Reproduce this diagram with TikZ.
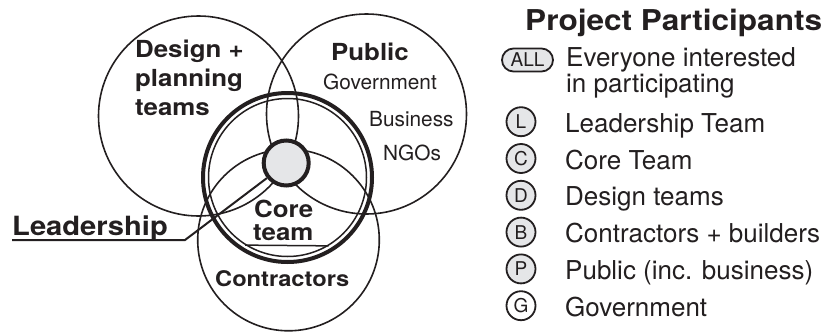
\documentclass[tikz,border=0pt]{standalone}
\usepackage{fontspec}
\setmainfont{TeX Gyre Heros}
\newfontfamily\widefont[FakeStretch=1.1]{TeX Gyre Heros}
\definecolor{ink}{RGB}{35,31,32}
\definecolor{fillgray}{RGB}{229,230,232}
\begin{document}
\begin{tikzpicture}[x=1pt,y=-1pt,
  venn/.style={circle, draw=ink, line width=1.6pt, inner sep=0pt, minimum size=#1},
  lab/.style={inner sep=0pt, anchor=base west, text=ink},
  boldlab/.style={lab, font=\widefont\bfseries\fontsize{23.5}{28}\selectfont},
  smalllab/.style={lab, font=\fontsize{20.8}{24}\selectfont},
  leglab/.style={lab, font=\fontsize{26}{30}\selectfont},
  legc/.style={circle, draw=ink, line width=1.8pt, fill=fillgray, minimum size=29pt, inner sep=0pt, text=ink, font=\fontsize{19}{19}\selectfont}
]
\useasboundingbox (0,0) rectangle (828,335);
% Venn circles
\node[venn=200] (design) at (198.5,116) {};
\node[venn=200] (public) at (366.5,114) {};
\node[venn=181.6] (contr) at (288.5,240) {};
\node[venn=169, line width=4pt] (lead) at (287.5,177.5) {};
\node[venn=158, line width=1.5pt] (inner) at (287.5,177.5) {};
% core team chord
\draw[draw=ink, line width=1.5pt] (inner.238.7) -- (inner.301.3);
% leadership leader line
\coordinate (ulstart) at (12,240);
\coordinate (elbow) at (185,240);
\node[venn=45, line width=4pt, fill=fillgray] (small) at (286.2,163) {};
\draw[draw=ink, line width=2pt] (ulstart) -- (elbow) -- (small.218);
% diagram labels
\node[boldlab] (t1) at (135,57) {Design +};
\node[boldlab] (t2) at (135,86) {planning};
\node[boldlab] (t3) at (135,115) {teams};
\node[boldlab] (t4) at (331,60) {Public};
\node[smalllab] (t5) at (323,89) {Government};
\node[smalllab] (t6) at (369,126) {Business};
\node[smalllab] (t7) at (383,160) {NGOs};
\node[boldlab] (t8) at (254,217) {Core};
\node[boldlab] (t9) at (253,240) {team};
\node[boldlab, font=\widefont\bfseries\fontsize{21.5}{26}\selectfont] (t10) at (215,286) {Contractors};
\node[boldlab, font=\widefont\bfseries\fontsize{26.5}{30}\selectfont] (t11) at (12,235) {Leadership};
% legend
\node[boldlab, font=\widefont\bfseries\fontsize{28.7}{32}\selectfont] (title) at (525,30) {Project Participants};
\node[draw=ink, line width=1.8pt, fill=fillgray, rounded corners=11.5pt, minimum width=51pt, minimum height=23pt, inner sep=0pt, text=ink, font=\fontsize{19}{19}\selectfont] (all) at (527.5,60) {ALL};
\node[lab, anchor=north west, align=left, font=\fontsize{26}{22.5}\selectfont] (e1) at (566,47.8) {Everyone interested\\in participating};
\node[legc] (cL) at (521,121.7) {L};
\node[leglab] (e3) at (565,132.2) {Leadership Team};
\node[legc] (cC) at (521,158.5) {C};
\node[leglab] (e4) at (565,169) {Core Team};
\node[legc] (cD) at (521,195.3) {D};
\node[leglab] (e5) at (565,205.8) {Design teams};
\node[legc] (cB) at (521,232.1) {B};
\node[leglab] (e6) at (565,242.6) {Contractors + builders};
\node[legc] (cP) at (521,268.9) {P};
\node[leglab] (e7) at (565,279.4) {Public (inc. business)};
\node[legc, fill=white] (cG) at (521,305.7) {G};
\node[leglab] (e8) at (565,316.2) {Government};
\end{tikzpicture}
\end{document}
